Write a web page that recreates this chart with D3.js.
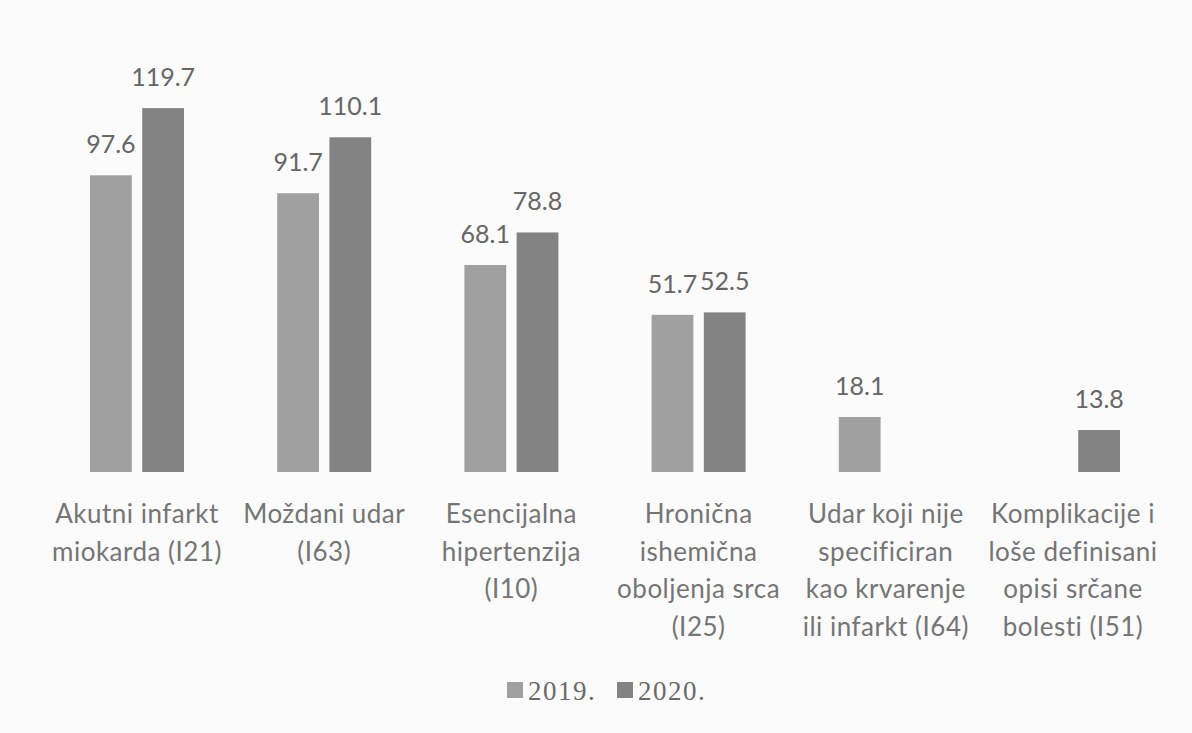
<!DOCTYPE html>
<html>
<head>
<meta charset="utf-8">
<script src="https://cdn.jsdelivr.net/npm/d3@7"></script>
<style>
  html, body { margin: 0; padding: 0; background: #fbfbfb; }
  svg { display: block; }
</style>
</head>
<body>
<svg id="chart" width="1192" height="733"></svg>
<script>
// ---- data ----
const categories = [
  ["Akutni infarkt", "miokarda (I21)"],
  ["Moždani udar", "(I63)"],
  ["Esencijalna", "hipertenzija", "(I10)"],
  ["Hronična", "ishemična", "oboljenja srca", "(I25)"],
  ["Udar koji nije", "specificiran", "kao krvarenje", "ili infarkt (I64)"],
  ["Komplikacije i", "loše definisani", "opisi srčane", "bolesti (I51)"]
];
const seriesNames = ["2019.", "2020."];
const values2019 = [97.6, 91.7, 68.1, 51.7, 18.1, null];
const values2020 = [119.7, 110.1, 78.8, 52.5, null, 13.8];
const seriesColors = ["#a0a0a0", "#838383"];

const svg = d3.select("#chart");
const catKeys = categories.map((c, i) => "c" + i);

const x0 = d3.scaleBand().domain(catKeys).range([43.4, 1166.6]).padding(0);
const groupW = 94;
const x1 = d3.scaleBand().domain(seriesNames).range([-groupW / 2, groupW / 2]).paddingInner(0.2);
const y = d3.scaleLinear().domain([0, 140]).range([472, 472 - 140 * 3.04]);

const seriesVals = [values2019, values2020];
const rows = [];
catKeys.forEach((k, i) => {
  seriesNames.forEach((s, j) => {
    const v = seriesVals[j][i];
    if (v !== null && v !== undefined) rows.push({ k, s, j, v });
  });
});

const cx = k => x0(k) + x0.bandwidth() / 2;

// bars
svg.append("g").selectAll("rect").data(rows).join("rect")
  .attr("x", d => cx(d.k) + x1(d.s))
  .attr("y", d => y(d.v))
  .attr("width", x1.bandwidth())
  .attr("height", d => y(0) - y(d.v))
  .attr("fill", d => seriesColors[d.j]);

// data labels
svg.append("g").selectAll("text").data(rows).join("text")
  .attr("x", d => cx(d.k) + x1(d.s) + x1.bandwidth() / 2)
  .attr("y", d => y(d.v) - 22)
  .attr("text-anchor", "middle")
  .attr("font-family", "Lato, 'Open Sans', sans-serif")
  .attr("font-size", 25)
  .attr("fill", "#666666")
  .text(d => d.v.toFixed(1));

// category labels
const labG = svg.append("g");
categories.forEach((lines, i) => {
  const t = labG.append("text")
    .attr("text-anchor", "middle")
    .attr("font-family", "Lato, 'Open Sans', sans-serif")
    .attr("font-size", 26)
    .attr("letter-spacing", 0.5)
    .attr("fill", "#757575");
  lines.forEach((ln, li) => {
    t.append("tspan")
      .attr("x", cx(catKeys[i]))
      .attr("y", 523 + li * 37.5)
      .text(ln);
  });
});

// legend
const legend = svg.append("g").attr("transform", "translate(507,690)");
const legItems = [{ n: seriesNames[0], c: seriesColors[0], dx: 0 }, { n: seriesNames[1], c: seriesColors[1], dx: 110 }];
legItems.forEach(it => {
  legend.append("rect").attr("x", it.dx).attr("y", -8).attr("width", 16).attr("height", 16).attr("fill", it.c);
  legend.append("text")
    .attr("x", it.dx + 21).attr("y", 10)
    .attr("font-family", "'Liberation Serif', 'DejaVu Serif', serif")
    .attr("font-size", 27)
    .attr("letter-spacing", 1.5)
    .attr("fill", "#6a6a6a")
    .text(it.n);
});
</script>
</body>
</html>
